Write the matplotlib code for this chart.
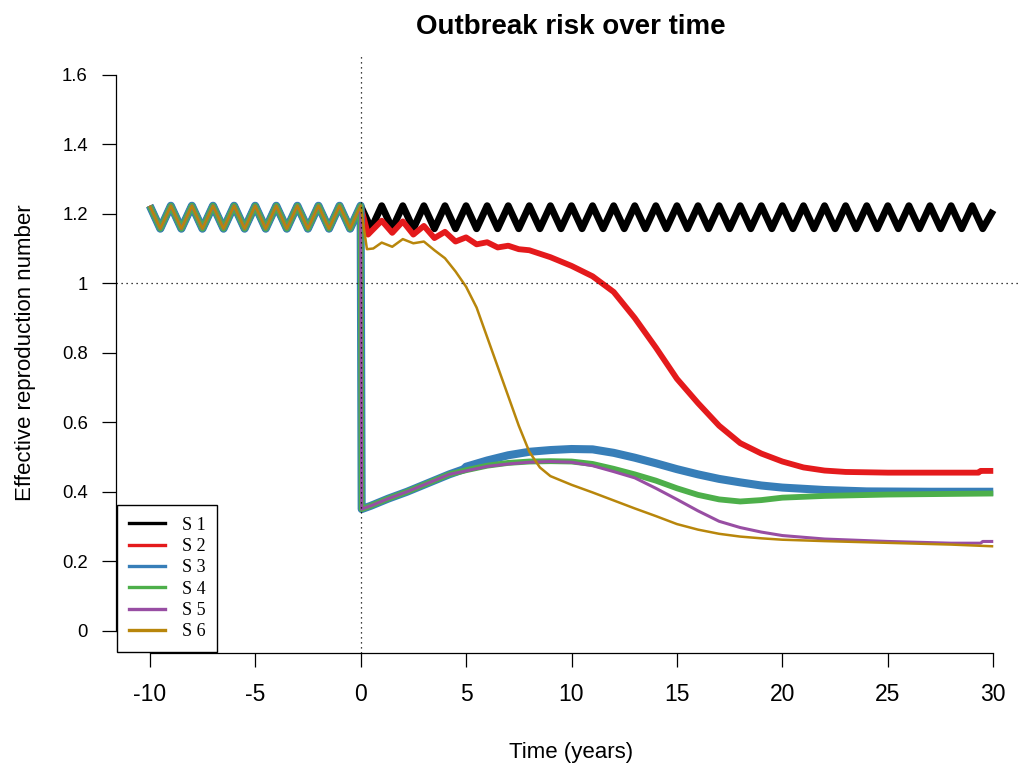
import matplotlib
matplotlib.use('Agg')
import matplotlib.pyplot as plt
import numpy as np

plt.rcParams['font.family'] = ['Liberation Sans', 'DejaVu Sans']

# shared history before the intervention (t = -10 .. 0, every half year)
pre_t = np.arange(-10, 0.01, 0.5)
pre_r = [1.223, 1.157, 1.223, 1.157, 1.223, 1.157, 1.223, 1.157, 1.223, 1.157,
         1.223, 1.157, 1.223, 1.157, 1.223, 1.157, 1.223, 1.157, 1.223, 1.157,
         1.223]

# S 1: no intervention, keeps oscillating
s1_t = np.arange(0.5, 30.01, 0.5)
s1_r = [1.157, 1.223, 1.157, 1.223, 1.157, 1.223, 1.157, 1.223, 1.157, 1.223,
        1.157, 1.223, 1.157, 1.223, 1.157, 1.223, 1.157, 1.223, 1.157, 1.223,
        1.157, 1.223, 1.157, 1.223, 1.157, 1.223, 1.157, 1.223, 1.157, 1.223,
        1.157, 1.223, 1.157, 1.223, 1.157, 1.223, 1.157, 1.223, 1.157, 1.223,
        1.157, 1.223, 1.157, 1.223, 1.157, 1.223, 1.157, 1.223, 1.157, 1.223,
        1.157, 1.223, 1.157, 1.223, 1.157, 1.223, 1.157, 1.223, 1.157, 1.210]

s2_t = [0.35, 1, 1.5, 2, 2.5, 3, 3.5, 4, 4.5, 5, 5.5, 6, 6.5, 7, 7.5, 8,
        9, 10, 11, 12, 13, 14, 15, 16, 17, 18, 19, 20, 21, 22, 23, 25, 28,
        29.3, 29.4, 30]
s2_r = [1.140, 1.180, 1.145, 1.178, 1.140, 1.165, 1.130, 1.148, 1.120, 1.132,
        1.112, 1.118, 1.103, 1.108, 1.098, 1.095, 1.075, 1.050, 1.020, 0.975,
        0.900, 0.815, 0.725, 0.655, 0.590, 0.540, 0.510, 0.487, 0.470, 0.461,
        0.457, 0.455, 0.455, 0.455, 0.460, 0.460]

s3_t = [0.05, 0.5, 1.3, 2.2, 3.2, 4.2, 4.9, 5, 6, 7, 8, 9, 10, 11, 12, 13,
        14, 15, 16, 17, 18, 19, 20, 22, 24, 27, 30]
s3_r = [0.350, 0.360, 0.380, 0.400, 0.425, 0.450, 0.465, 0.472, 0.490, 0.505,
        0.515, 0.520, 0.523, 0.522, 0.512, 0.498, 0.482, 0.465, 0.450, 0.437,
        0.427, 0.418, 0.412, 0.405, 0.401, 0.400, 0.400]

s4_t = [0.05, 0.5, 1.3, 2.2, 3.2, 4.2, 5, 6, 7, 8, 9, 10, 11, 12, 13, 14,
        15, 16, 17, 18, 19, 20, 22, 25, 30]
s4_r = [0.350, 0.360, 0.380, 0.400, 0.425, 0.450, 0.462, 0.475, 0.483, 0.487,
        0.488, 0.487, 0.480, 0.466, 0.450, 0.432, 0.410, 0.391, 0.378, 0.372,
        0.376, 0.383, 0.388, 0.392, 0.395]

s5_t = [0.05, 0.5, 1.3, 2.2, 3.2, 4.2, 5, 6, 7, 8, 9, 10, 11, 12, 13, 14,
        15, 16, 17, 18, 19, 20, 22, 25, 28, 29.4, 29.5, 30]
s5_r = [0.350, 0.360, 0.380, 0.400, 0.425, 0.450, 0.460, 0.473, 0.480, 0.485,
        0.487, 0.485, 0.475, 0.458, 0.440, 0.410, 0.378, 0.345, 0.315, 0.297,
        0.284, 0.274, 0.264, 0.257, 0.252, 0.252, 0.257, 0.257]

s6_t = [0.3, 0.6, 1, 1.5, 2, 2.5, 3, 3.5, 4, 4.5, 5, 5.5, 6, 6.5, 7, 7.5, 8,
        8.5, 9, 10, 11, 12, 13, 14, 15, 16, 17, 18, 19, 20, 22, 25, 28, 30]
s6_r = [1.098, 1.100, 1.117, 1.105, 1.127, 1.115, 1.120, 1.095, 1.072, 1.034,
        0.990, 0.930, 0.845, 0.760, 0.675, 0.590, 0.515, 0.470, 0.445, 0.420,
        0.398, 0.375, 0.352, 0.330, 0.307, 0.291, 0.279, 0.271, 0.266, 0.262,
        0.258, 0.253, 0.248, 0.243]

labels = ['S 1', 'S 2', 'S 3', 'S 4', 'S 5', 'S 6']
colors = ['black', '#E41A1C', '#377EB8', '#4DAF4A', '#984EA3', '#B8860B']
widths = [5.0, 4.2, 5.8, 4.2, 2.2, 1.8]

series = [(s1_t, s1_r), (s2_t, s2_r), (s3_t, s3_r),
          (s4_t, s4_r), (s5_t, s5_r), (s6_t, s6_r)]

fig = plt.figure(figsize=(10.19, 7.64), dpi=100)
ax = fig.add_axes([116 / 1019, 111 / 764, 911 / 1019, 600.5 / 764])

for (t, r), lab, col, lw in zip(series, labels, colors, widths):
    tt = np.concatenate([pre_t, t])
    rr = np.concatenate([pre_r, r])
    ax.plot(tt, rr, color=col, lw=lw, solid_joinstyle='round',
            solid_capstyle='butt', label=lab)

ax.axvline(0, color='black', lw=0.9, ls=(0, (1, 3)))
ax.axhline(1, color='black', lw=0.9, ls=(0, (1, 3)))

ax.set_xlim(-11.6, 31.6)
ax.set_ylim(-0.064, 1.664)
ax.set_xticks([-10, -5, 0, 5, 10, 15, 20, 25, 30])
ax.set_xticklabels(['-10', '-5', '0', '5', '10', '15', '20', '25', '30'])
ax.set_yticks([0, 0.2, 0.4, 0.6, 0.8, 1.0, 1.2, 1.4, 1.6])
ax.set_yticklabels(['0', '0.2', '0.4', '0.6', '0.8', '1', '1.2', '1.4', '1.6'])

for side in ['top', 'right']:
    ax.spines[side].set_visible(False)
ax.spines['left'].set_bounds(0, 1.6)
ax.spines['bottom'].set_bounds(-10, 30)
ax.spines['left'].set_linewidth(0.9)
ax.spines['bottom'].set_linewidth(0.9)

ax.tick_params(axis='both', direction='out', length=9.8, width=0.9)
ax.tick_params(axis='x', pad=12, labelsize=16.5)
ax.tick_params(axis='y', pad=10.5, labelsize=13.3)

ax.set_xlabel('Time (years)', fontsize=16, labelpad=26)
ax.set_ylabel('Effective reproduction number', fontsize=16, labelpad=19)
fig.text(571 / 1019, 1 - 27 / 764, 'Outbreak risk over time', ha='center',
         va='center', fontsize=20, fontweight='bold')

handles = [plt.Line2D([], [], color=c, lw=2.4) for c in colors]
leg = ax.legend(handles, labels, loc='lower left',
                bbox_to_anchor=(117 / 1019, 112 / 764),
                bbox_transform=fig.transFigure, fancybox=False, framealpha=1,
                edgecolor='black', prop={'family': 'Liberation Serif', 'size': 13},
                handlelength=2.0, handletextpad=0.95, labelspacing=0.24,
                borderpad=0.65, borderaxespad=0)
leg.get_frame().set_linewidth(1.0)

fig.savefig('out.png', dpi=100)
